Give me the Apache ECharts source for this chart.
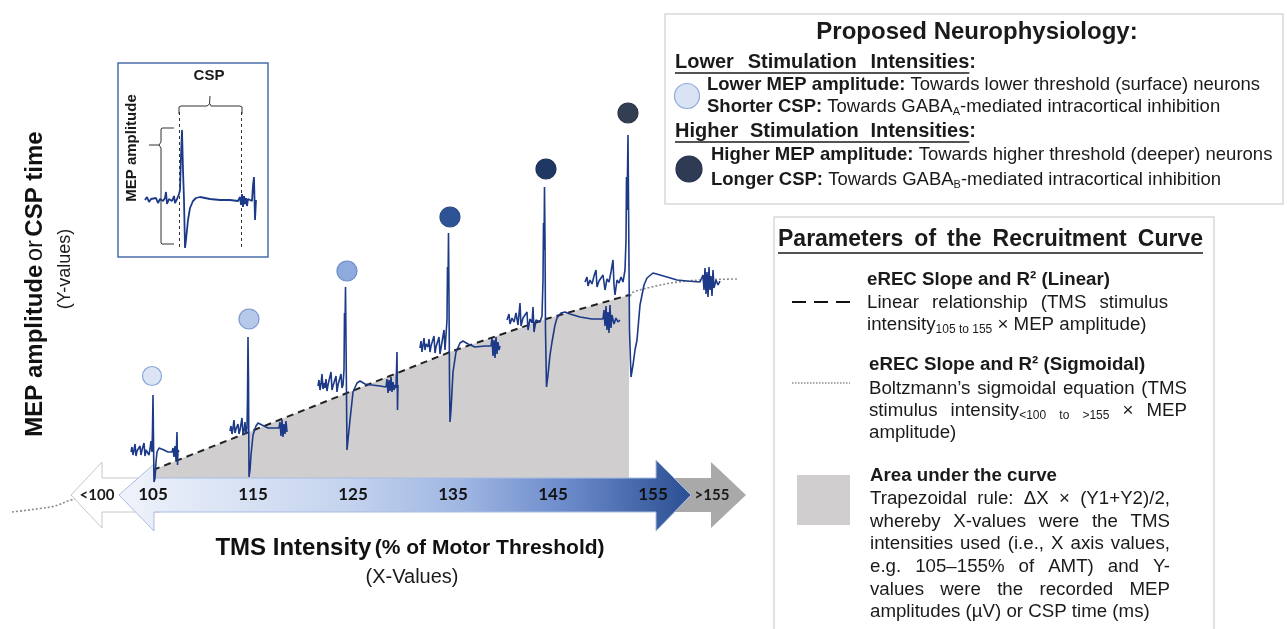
<!DOCTYPE html>
<html>
<head>
<meta charset="utf-8">
<script src="https://cdn.jsdelivr.net/npm/echarts@6/dist/echarts.min.js"></script>
<style>
html,body{margin:0;padding:0;background:#fff}
#chart{width:1287px;height:629px}
</style>
</head>
<body>
<div id="chart"></div>
<script>
// ---------- data ----------
// TMS intensity (% of motor threshold) labels printed on the intensity arrow
const intensityTicks = [105, 115, 125, 135, 145, 155];
const outerLabels = ['<100', '>155'];

// MEP peak markers (one per stimulation intensity)
const markerX = [104.9, 114.6, 124.4, 134.7, 144.3, 152.5];
const markerY = [124, 181, 229, 283, 331, 387];

// linear recruitment fit (dashed) and area under the curve
const fitX = [105, 114.6, 124.4, 134.7, 144.3, 152.6];
const fitY = [30, 68, 107, 148, 181, 205];

// Boltzmann sigmoid fit (dotted)
const sigmoidX = [90.9, 92.2, 93.7, 95.2, 96.8, 98.7, 105, 114.6, 124.4, 134.7, 144.3, 152.6, 153.0, 155.0, 157.0, 159.7, 163.4];
const sigmoidY = [-12, -10.5, -8.5, -6, 0, 3, 10, 35, 70, 120, 170, 203, 207.7, 213.3, 217.3, 220, 221];

// EMG sweeps recorded at each intensity [x, amplitude]
const trace105 = [[102.8,48],[102.9,53],[103.0,45],[103.1,50],[103.2,56],[103.3,44],[103.4,49],[103.6,47],[103.7,54],[103.8,45],[103.9,50],[104.0,48],[104.1,57],[104.2,44],[104.3,50],[104.4,48],[104.5,52],[104.6,45],[104.7,51],[104.8,59],[104.9,48],[104.95,70],[105.0,105],[105.05,60],[105.1,18],[105.2,22],[105.3,38],[105.4,48],[105.6,52],[105.8,53],[106.1,50],[106.5,48],[106.9,48],[107.0,52],[107.1,43],[107.2,54],[107.3,40],[107.4,68],[107.45,35],[107.5,50],[107.6,48]];
const trace115 = [[112.7,69],[112.8,74],[112.9,66],[113.0,72],[113.1,80],[113.2,67],[113.3,71],[113.4,69],[113.5,76],[113.6,66],[113.7,70],[113.8,71],[113.9,82],[114.0,65],[114.1,69],[114.2,78],[114.3,66],[114.4,72],[114.45,100],[114.5,163],[114.55,120],[114.6,23],[114.7,30],[114.8,45],[115.0,65],[115.3,74],[115.5,77],[115.9,75],[116.5,72],[117.2,72],[117.6,72],[117.7,78],[117.8,64],[117.9,80],[118.0,63],[118.1,76],[118.2,66],[118.3,79],[118.4,68]];
const trace125 = [[121.5,114],[121.6,120],[121.7,110],[121.8,116],[121.9,126],[122.0,111],[122.1,117],[122.2,112],[122.3,121],[122.4,109],[122.5,115],[122.7,117],[122.8,128],[122.9,110],[123.0,114],[123.2,116],[123.3,124],[123.4,108],[123.5,115],[123.7,117],[123.8,126],[123.9,112],[124.0,115],[124.1,130],[124.15,187],[124.2,170],[124.25,213],[124.3,160],[124.4,50],[124.5,60],[124.7,80],[125.0,108],[125.4,117],[125.7,119],[126.2,116],[126.9,115],[127.7,114],[128.3,113],[128.4,121],[128.5,107],[128.6,120],[128.7,109],[128.8,123],[128.9,108],[129.0,118],[129.1,110],[129.2,115],[129.3,112],[129.4,148],[129.45,90],[129.5,115]];
const trace135 = [[131.7,152],[131.8,159],[131.9,148],[132.0,155],[132.1,162],[132.2,150],[132.3,156],[132.5,153],[132.6,161],[132.7,148],[132.8,154],[133.0,156],[133.1,164],[133.2,147],[133.3,153],[133.5,155],[133.6,163],[133.7,146],[133.8,152],[134.0,154],[134.1,170],[134.2,150],[134.3,152],[134.4,180],[134.45,233],[134.5,210],[134.55,267],[134.6,200],[134.65,120],[134.7,78],[134.8,90],[135.0,128],[135.3,148],[135.7,157],[136.0,159],[136.5,156],[137.2,153],[138.2,154],[138.8,154],[138.9,162],[139.0,144],[139.1,160],[139.2,142],[139.3,163],[139.4,146],[139.5,158],[139.6,150],[139.7,154]];
const trace145 = [[140.4,180],[140.6,186],[140.7,176],[140.9,182],[141.1,178],[141.3,187],[141.5,175],[141.7,197],[141.8,174],[142.0,182],[142.2,180],[142.4,188],[142.5,170],[142.7,181],[142.9,177],[143.0,193],[143.1,168],[143.3,180],[143.5,182],[143.7,178],[143.9,184],[144.0,220],[144.05,277],[144.1,250],[144.15,313],[144.2,260],[144.25,170],[144.35,113],[144.5,125],[144.7,145],[144.9,158],[145.2,175],[145.4,182],[145.8,187],[146.2,188],[146.7,186],[147.7,183],[148.9,181],[150.0,181],[150.1,190],[150.2,174],[150.3,194],[150.4,170],[150.5,188],[150.6,167],[150.7,195],[150.8,172],[150.9,185],[151.1,176],[151.3,182],[151.5,178],[151.7,180]];
const trace155 = [[148.2,218],[148.4,223],[148.5,214],[148.7,220],[148.9,216],[149.1,224],[149.3,230],[149.4,213],[149.6,219],[149.8,217],[150.0,225],[150.2,210],[150.4,221],[150.6,218],[150.8,228],[151.0,240],[151.1,215],[151.2,205],[151.4,220],[151.6,217],[151.8,223],[152.0,218],[152.2,230],[152.3,260],[152.35,323],[152.4,290],[152.5,365],[152.55,300],[152.65,170],[152.8,123],[153.0,135],[153.2,150],[153.4,160],[153.7,195],[154.1,215],[154.4,222],[155.0,227],[155.7,225],[156.4,223],[157.4,220],[158.4,219],[159.7,218],[160.0,225],[160.1,210],[160.2,232],[160.3,206],[160.4,228],[160.5,203],[160.6,233],[160.7,210],[160.8,224],[160.9,204],[161.0,230],[161.1,212],[161.3,220],[161.5,215],[161.7,219]];

// example sweep in the inset [time, amplitude]
const insetTrace = [[0,0],[2,3],[4,-2],[6,1],[8,-1],[11,2],[13,-3],[15,1],[18,-1],[20,2],[21,8],[22,-4],[24,1],[27,-1],[29,4],[30,-3],[32,1],[34,6],[35,10],[36,44],[37,70],[38,30],[39,0],[40,-48],[41,-40],[43,-20],[45,-8],[48,-1],[51,2],[55,3],[60,2],[65,1],[75,0],[85,0],[93,-1],[95,3],[96,-5],[97,6],[98,-7],[99,4],[100,-4],[101,2],[102,-6],[103,1],[105,0],[107,-1],[108,15],[109,23],[110,-20],[111,0]];
const cspWindow = [34, 96.7];

// text of the two explanation panels
const neuroTitle = 'Proposed Neurophysiology:';
const lowerHead = 'Lower Stimulation Intensities';
const lowerLines = ['*Lower *MEP *amplitude: Towards lower threshold (surface) neurons',
                    '*Shorter *CSP: Towards GABA_A_-mediated intracortical inhibition'];
const higherHead = 'Higher Stimulation Intensities';
const higherLines = ['*Higher *MEP *amplitude: Towards higher threshold (deeper) neurons',
                     '*Longer *CSP: Towards GABA_B_-mediated intracortical inhibition'];
const paramTitle = 'Parameters of the Recruitment Curve';
const linearHead = '*eREC *Slope *and *R² *(Linear)';
const linearText = ['Linear relationship (TMS stimulus', 'intensity_105 _to _155 × MEP amplitude)'];
const sigmoidHead = '*eREC *Slope *and *R² *(Sigmoidal)';
const sigmoidText = ['Boltzmann’s sigmoidal equation (TMS', 'stimulus intensity_<100 _to _>155 × MEP', 'amplitude)'];
const aucHead = '*Area *under *the *curve';
const aucText = ['Trapezoidal rule: ΔX × (Y1+Y2)/2,', 'whereby X-values were the TMS', 'intensities used (i.e., X axis values,',
                 'e.g. 105–155% of AMT) and Y-', 'values were the recorded MEP', 'amplitudes (µV) or CSP time (ms)'];

// ---------- text helpers ----------
const FONT = '"Liberation Sans", Arial, Helvetica, sans-serif';
const mctx = document.createElement('canvas').getContext('2d');
function fontStr(size, bold) { return (bold ? 'bold ' : '') + size + 'px ' + FONT; }
function measure(t, size, bold) { mctx.font = fontStr(size, bold); return mctx.measureText(t).width; }

// "*word" = bold word, "_" toggles subscript inside a word
function parseTokens(src, size) {
  return src.split(' ').filter(s => s.length).map(tok => {
    let bold = false;
    if (tok.charAt(0) === '*') { bold = true; tok = tok.slice(1); }
    const parts = [];
    let sub = false;
    tok.split('_').forEach((seg, i) => {
      if (i > 0) sub = !sub;
      if (seg) parts.push({ t: seg, sub: sub, bold: bold, size: sub ? Math.round(size * 0.62) : size });
    });
    parts.forEach(p => { p.w = measure(p.t, p.size, p.bold); });
    return parts;
  });
}

function textLine(src, x, y, size, o) {
  o = o || {};
  const words = parseTokens(src, size);
  const ww = words.map(w => w.reduce((s, p) => s + p.w, 0));
  const sum = ww.reduce((a, b) => a + b, 0);
  const els = [];
  let cx = x;
  words.forEach((w, i) => {
    if (i > 0) {
      cx += o.justify ? (o.justify - x - sum) / (words.length - 1) : measure(' ', w[0].size, w[0].bold);
    }
    w.forEach(p => {
      const dy = p.sub ? 0.35 * (size - p.size) + 2 : 0;
      els.push({
        type: 'text', x: cx, y: y + dy, z: 20, silent: true,
        style: { text: p.t, font: fontStr(p.size, p.bold), fill: o.color || '#1a1a1a',
                 align: 'left', verticalAlign: 'middle', textAlign: 'left', textVerticalAlign: 'middle' }
      });
      cx += p.w;
    });
  });
  return { els: els, end: cx };
}

function underlined(label, x, y, size, justify) {
  const t = textLine('*' + label.split(' ').join(' *') + ':', x, y, size, justify ? { justify: justify } : {});
  const colonW = measure(':', size, true);
  t.els.push({ type: 'line', z: 20, silent: true,
    shape: { x1: x, y1: y + size * 0.55, x2: t.end - colonW, y2: y + size * 0.55 },
    style: { stroke: '#1a1a1a', lineWidth: 1.4 } });
  return t.els;
}

function plainText(text, x, y, font, extra) {
  return Object.assign({
    type: 'text', x: x, y: y, z: 20, silent: true,
    style: { text: text, font: font, fill: '#1a1a1a', align: 'center', verticalAlign: 'middle',
             textAlign: 'center', textVerticalAlign: 'middle' }
  }, extra || {});
}

function polyline(points, stroke, width, z) {
  return { type: 'polyline', z: z || 7, silent: true, shape: { points: points },
           style: { fill: null, stroke: stroke, lineWidth: width } };
}

// ---------- chart ----------
const chart = echarts.init(document.getElementById('chart'), null, { renderer: 'canvas' });

const markerFill = ['#dce5f5', '#b7c9ea', '#8faadc', '#2e5395', '#1f3763', '#323e52'];
const markerLine = ['#8ba6d8', '#7c98cf', '#6d8ccc', '#2a4a86', '#1a2f55', '#2a3445'];
const traceColor = '#1d3a88';

const traces = [trace105, trace115, trace125, trace135, trace145, trace155].map((d, i) => ({
  type: 'line', name: 'sweep ' + intensityTicks[i], data: d, xAxisIndex: 0, yAxisIndex: 0,
  symbol: 'none', clip: false, z: 5, silent: true,
  lineStyle: { color: traceColor, width: 1.6 }
}));

const blueGrad = new echarts.graphic.LinearGradient(0, 0, 1, 0, [
  { offset: 0, color: '#eff3fb' }, { offset: 0.4, color: '#c4d3ee' }, { offset: 0.6, color: '#9fb6e2' },
  { offset: 0.78, color: '#6c8bcb' }, { offset: 1, color: '#2a4f92' }
]);

let graphics = [];
// intensity arrows
graphics.push({ type: 'polygon', z: 3, silent: true,
  shape: { points: [[71,495],[102,462],[102,478],[160,478],[160,512],[102,512],[102,528]] },
  style: { fill: '#ffffff', stroke: '#c8c8c8', lineWidth: 1 } });
graphics.push({ type: 'polygon', z: 3, silent: true,
  shape: { points: [[650,478],[711,478],[711,462],[746,495],[711,528],[711,512],[650,512]] },
  style: { fill: '#a9a9a9' } });
graphics.push({ type: 'polygon', z: 4, silent: true,
  shape: { points: [[119,495],[154,464],[154,478],[656,478],[656,460],[691,495],[656,531],[656,512],[154,512],[154,531]] },
  style: { fill: blueGrad, stroke: '#a9bde3', lineWidth: 1 } });
graphics.push(plainText(outerLabels[0], 97, 495, 'bold 15px Lato, ' + FONT, { z: 21 }));
graphics.push(plainText(outerLabels[1], 712, 495, 'bold 15px Lato, ' + FONT, { z: 21 }));

// axis titles
graphics.push({ type: 'text', x: 35, y: 284, rotation: Math.PI / 2, z: 20, silent: true,
  style: { text: '{b|MEP amplitude} {n|or} {b|CSP time}', align: 'center', verticalAlign: 'middle',
           textAlign: 'center', textVerticalAlign: 'middle', fill: '#111',
           rich: { b: { font: fontStr(24, true), fill: '#111' }, n: { font: fontStr(24, false), fill: '#111' } } } });
graphics.push(plainText('(Y-values)', 65, 269, fontStr(18, false), { rotation: Math.PI / 2 }));
graphics.push({ type: 'text', x: 410, y: 548, z: 20, silent: true,
  style: { text: '{b|TMS Intensity} {m|(% of Motor Threshold)}', align: 'center', verticalAlign: 'middle',
           textAlign: 'center', textVerticalAlign: 'middle', fill: '#111',
           rich: { b: { font: fontStr(24, true), fill: '#111' }, m: { font: fontStr(21, true), fill: '#111' } } } });
graphics.push(plainText('(X-Values)', 412, 577, fontStr(20, false)));

// inset frame and braces
graphics.push({ type: 'rect', z: 2, silent: true, shape: { x: 118, y: 63, width: 150, height: 194 },
  style: { fill: '#ffffff', stroke: '#4a6ea8', lineWidth: 1.5 } });
graphics.push(polyline([[179,114],[179,107],[181,106],[207,106],[209.5,104],[210,96]], '#333', 1));
graphics.push(polyline([[210,104],[211,106],[240,106],[242,107],[242,114]], '#333', 1));
graphics.push(polyline([[174,128],[162,128],[161,129],[161,142],[159,145],[149,145]], '#333', 1));
graphics.push(polyline([[159,145],[161,148],[161,243],[162,244],[174,244]], '#333', 1));
graphics.push(plainText('CSP', 209, 76, fontStr(15, true)));
graphics.push(plainText('MEP amplitude', 132, 148, fontStr(15, true), { rotation: Math.PI / 2 }));

// panel: proposed neurophysiology
graphics.push({ type: 'rect', z: 1, silent: true, shape: { x: 665, y: 14, width: 618, height: 190 },
  style: { fill: '#ffffff', stroke: '#d9d9d9', lineWidth: 1.5 } });
graphics.push(plainText(neuroTitle, 977, 32, fontStr(24, true)));
graphics = graphics.concat(underlined(lowerHead, 675, 62, 20, 976));
graphics.push({ type: 'circle', z: 20, silent: true, shape: { cx: 687, cy: 96, r: 12.5 },
  style: { fill: '#dae3f3', stroke: '#8eaadb', lineWidth: 1.2 } });
graphics = graphics.concat(textLine(lowerLines[0], 707, 85, 18.5).els, textLine(lowerLines[1], 707, 107, 18.5).els);
graphics = graphics.concat(underlined(higherHead, 675, 131, 20, 976));
graphics.push({ type: 'circle', z: 20, silent: true, shape: { cx: 689, cy: 169, r: 13 },
  style: { fill: '#2f3b52', stroke: '#223050', lineWidth: 1.2 } });
graphics = graphics.concat(textLine(higherLines[0], 711, 155, 18.5).els, textLine(higherLines[1], 711, 180, 18.5).els);

// panel: parameters of the recruitment curve
graphics.push({ type: 'rect', z: 1, silent: true, shape: { x: 774, y: 217, width: 440, height: 430 },
  style: { fill: '#ffffff', stroke: '#d9d9d9', lineWidth: 1.5 } });
(function () {
  const t = textLine('*' + paramTitle.split(' ').join(' *'), 778, 240, 23, { justify: 1203 });
  graphics = graphics.concat(t.els);
  graphics.push({ type: 'line', z: 20, silent: true, shape: { x1: 778, y1: 253, x2: t.end, y2: 253 },
    style: { stroke: '#1a1a1a', lineWidth: 1.5 } });
})();
graphics.push({ type: 'line', z: 20, silent: true, shape: { x1: 792, y1: 302, x2: 852, y2: 302 },
  style: { stroke: '#111', lineWidth: 2, lineDash: [14, 8] } });
graphics.push({ type: 'line', z: 20, silent: true, shape: { x1: 792, y1: 383, x2: 850, y2: 383 },
  style: { stroke: '#8c8c8c', lineWidth: 1.4, lineDash: [1.5, 1.5] } });
graphics.push({ type: 'rect', z: 20, silent: true, shape: { x: 797, y: 475, width: 53, height: 50 },
  style: { fill: '#d0cece' } });
const BS = 18.7;
graphics = graphics.concat(textLine(linearHead, 867, 280, BS).els);
graphics = graphics.concat(textLine(linearText[0], 867, 303, BS, { justify: 1168 }).els);
graphics = graphics.concat(textLine(linearText[1], 867, 325, BS).els);
graphics = graphics.concat(textLine(sigmoidHead, 869, 365, BS).els);
graphics = graphics.concat(textLine(sigmoidText[0], 869, 389, BS, { justify: 1187 }).els);
graphics = graphics.concat(textLine(sigmoidText[1], 869, 411, BS, { justify: 1187 }).els);
graphics = graphics.concat(textLine(sigmoidText[2], 869, 433, BS).els);
graphics = graphics.concat(textLine(aucHead, 870, 476, BS).els);
aucText.forEach((line, i) => {
  const last = i === aucText.length - 1;
  graphics = graphics.concat(textLine(line, 870, 499 + i * 22.6, BS, last ? {} : { justify: 1170 }).els);
});

const option = {
  backgroundColor: '#ffffff',
  animation: false,
  grid: [
    { left: 3, top: 0, width: 1200, height: 629 },
    { left: 145, top: 100, width: 111, height: 150 }
  ],
  xAxis: [
    { gridIndex: 0, type: 'value', min: 90, max: 210, show: false },
    { gridIndex: 0, type: 'value', min: 90, max: 210, interval: 5, position: 'bottom', offset: -134, z: 30,
      axisLine: { show: false }, axisTick: { show: false }, splitLine: { show: false },
      axisLabel: { margin: 0, verticalAlign: 'middle', color: '#111', fontFamily: 'Lato', fontSize: 17,
                   fontWeight: 'bold', showMinLabel: false, showMaxLabel: false,
                   formatter: v => (intensityTicks.indexOf(v) >= 0 ? String(v) : '') } },
    { gridIndex: 1, type: 'value', min: 0, max: 111, show: false }
  ],
  yAxis: [
    { gridIndex: 0, type: 'value', min: -129, max: 500, show: false },
    { gridIndex: 1, type: 'value', min: -50, max: 100, show: false }
  ],
  series: [
    { type: 'line', name: 'sigmoid fit', data: sigmoidX.map((x, i) => [x, sigmoidY[i]]),
      xAxisIndex: 0, yAxisIndex: 0, symbol: 'none', smooth: 0.35, clip: false, z: 1, silent: true,
      lineStyle: { color: '#8c8c8c', width: 1.6, type: [2, 2] } },
    { type: 'line', name: 'linear fit', data: fitX.map((x, i) => [x, fitY[i]]),
      xAxisIndex: 0, yAxisIndex: 0, symbol: 'none', clip: false, z: 2, silent: true,
      lineStyle: { color: '#222', width: 2, type: [7, 5] },
      areaStyle: { color: '#d0cece', opacity: 1 } },
    ...traces,
    { type: 'scatter', name: 'MEP peak', xAxisIndex: 0, yAxisIndex: 0, z: 6, silent: true, symbolSize: 20,
      data: markerX.map((x, i) => ({ value: [x, markerY[i]], symbolSize: i === 0 ? 19 : 20,
        itemStyle: { color: markerFill[i], borderColor: markerLine[i], borderWidth: 1.2, opacity: 1 } })) },
    { type: 'line', name: 'example sweep', data: insetTrace, xAxisIndex: 2, yAxisIndex: 1,
      symbol: 'none', clip: false, z: 6, silent: true,
      lineStyle: { color: traceColor, width: 1.8 },
      markLine: { symbol: 'none', silent: true, label: { show: false }, animation: false,
        lineStyle: { color: '#333', type: [3, 3], width: 1 },
        data: cspWindow.map(x => [{ coord: [x, 88] }, { coord: [x, -47] }]) } }
  ],
  graphic: { elements: graphics }
};
chart.setOption(option);
</script>
</body>
</html>
